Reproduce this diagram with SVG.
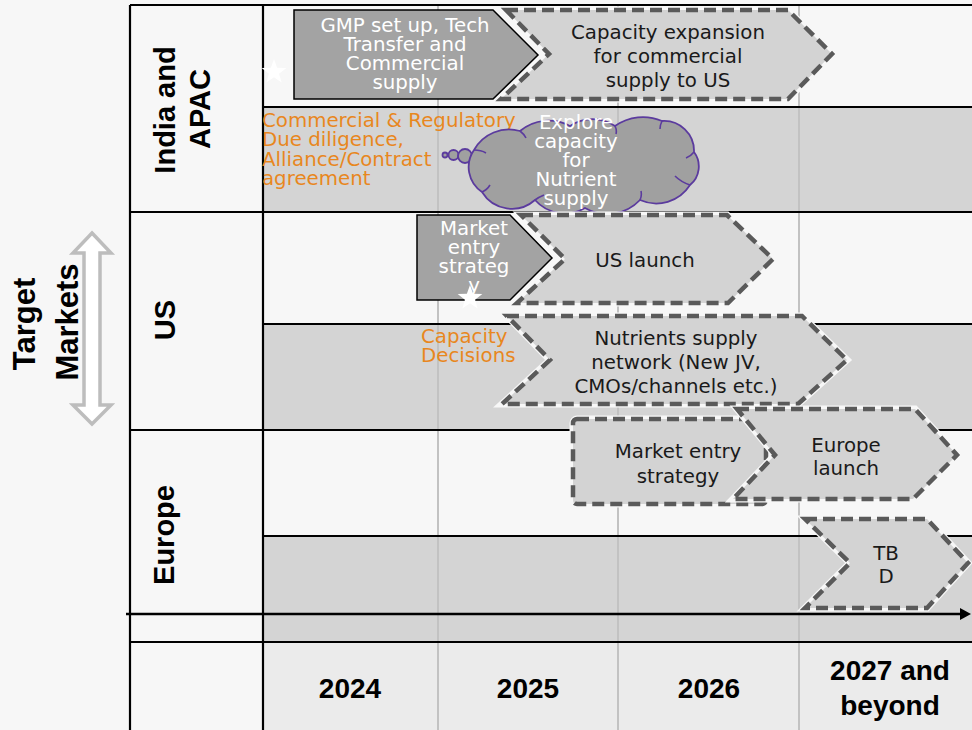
<svg xmlns="http://www.w3.org/2000/svg" width="972" height="730" viewBox="0 0 972 730">
<style>
.t{font-family:"DejaVu Sans","Verdana",sans-serif;font-size:19.8px;text-anchor:middle}
.w{fill:#ffffff}
.k{fill:#1a1a1a}
.o{fill:#e8871e;text-anchor:start}
.b{font-family:"Liberation Sans",Arial,sans-serif;font-weight:bold;fill:#000;text-anchor:middle}
.solid{fill:#a3a3a3;stroke:#000;stroke-width:1.5}
.dash{fill:#d3d3d3;stroke:#5a5a5a;stroke-width:4.5;stroke-dasharray:12 6}
.under{fill:none;stroke:#f7f7f7;stroke-width:7}
.grid{stroke:#c2c2c2;stroke-width:2}
.bl{stroke:#000;stroke-width:2.2}
.cl{fill:#a0a0a0;stroke:#5b3b9e;stroke-width:1.8}
</style>
<defs>
<polygon id="star" points="0,-13 3.12,-4.29 12.36,-4.02 5.04,1.64 7.64,10.52 0,5.3 -7.64,10.52 -5.04,1.64 -12.36,-4.02 -3.12,-4.29" fill="#ffffff"/>
<marker id="ah" markerWidth="11" markerHeight="12" refX="1" refY="6" orient="auto" markerUnits="userSpaceOnUse">
<path d="M0,0 L11,6 L0,12 Z" fill="#000"/>
</marker>
</defs>
<rect x="0" y="0" width="972" height="730" fill="#f7f7f7"/>
<g id="background">
<rect x="263" y="107" width="709" height="105" fill="#d4d4d4"/>
<rect x="263" y="324" width="709" height="106" fill="#d4d4d4"/>
<rect x="263" y="536" width="709" height="106" fill="#d4d4d4"/>
<rect x="263" y="642" width="709" height="88" fill="#ebebeb"/>
<line class="grid" x1="438" y1="5" x2="438" y2="730"/>
<line class="grid" x1="618" y1="5" x2="618" y2="730"/>
<line class="grid" x1="799" y1="5" x2="799" y2="730"/>
<line class="bl" x1="130" y1="5" x2="972" y2="5"/>
<line class="bl" x1="130" y1="5" x2="130" y2="730"/>
<line class="bl" x1="263" y1="5" x2="263" y2="730"/>
<line class="bl" x1="263" y1="107" x2="972" y2="107"/>
<line class="bl" x1="130" y1="212" x2="972" y2="212"/>
<line class="bl" x1="263" y1="324" x2="972" y2="324"/>
<line class="bl" x1="130" y1="430" x2="972" y2="430"/>
<line class="bl" x1="263" y1="536" x2="972" y2="536"/>
<line class="bl" x1="130" y1="642" x2="972" y2="642"/>
</g>
<g id="connectors">
<line x1="126" y1="614" x2="961" y2="614" stroke="#000" stroke-width="2.5" marker-end="url(#ah)"/>
</g>
<g id="target-markets">
<polygon points="92,233 111,253 100,253 100,405 111,405 92,424 73,405 84,405 84,253 73,253" fill="#ffffff" stroke="#bdbdbd" stroke-width="3.5" stroke-linejoin="miter"/>
<text class="b" font-size="31" transform="translate(35,324) rotate(-90)">Target</text>
<text class="b" font-size="31" transform="translate(78,322) rotate(-90)">Markets</text>
</g>
<g id="row-labels">
<text class="b" font-size="29" transform="translate(175,110) rotate(-90)">India and</text>
<text class="b" font-size="29" transform="translate(210,109) rotate(-90)">APAC</text>
<text class="b" font-size="29" transform="translate(175,320) rotate(-90)">US</text>
<text class="b" font-size="29" transform="translate(174,535) rotate(-90)">Europe</text>
</g>
<g id="years">
<text class="b" font-size="28" x="350" y="698">2024</text>
<text class="b" font-size="28" x="528" y="698">2025</text>
<text class="b" font-size="28" x="709" y="698">2026</text>
<text class="b" font-size="28" x="890" y="680">2027 and</text>
<text class="b" font-size="28" x="890" y="715">beyond</text>
</g>
<g id="capacity-expansion">
<polygon class="under" points="506,10 788,10 832,54 788,99 501,99 549,54"/>
<polygon class="dash" points="506,10 788,10 832,54 788,99 501,99 549,54"/>
<text class="t k" x="668" y="39">Capacity expansion</text>
<text class="t k" x="668" y="63">for commercial</text>
<text class="t k" x="668" y="86.5">supply to US</text>
</g>
<g id="gmp">
<polygon class="solid" points="294,10 493,10 538,55 493,99 294,99"/>
<text class="t w" x="405" y="31.5">GMP set up, Tech</text>
<text class="t w" x="405" y="50.5">Transfer and</text>
<text class="t w" x="405" y="69.5">Commercial</text>
<text class="t w" x="405" y="88.5">supply</text>
</g>
<g id="india-due-diligence">
<text class="t o" x="262" y="126.5">Commercial &amp; Regulatory</text>
<text class="t o" x="262" y="146">Due diligence,</text>
<text class="t o" x="262" y="165.5">Alliance/Contract</text>
<text class="t o" x="262" y="185">agreement</text>
</g>
<g id="explore-cloud">
<circle class="cl" cx="445" cy="155" r="2.5"/>
<circle class="cl" cx="453.5" cy="155" r="5"/>
<circle class="cl" cx="465" cy="156" r="7"/>
<path class="cl" stroke-width="2" d="M482,192 A30,30 0 0 1 474,150 A40,40 0 0 1 520,131 A45,45 0 0 1 570,126 A40,40 0 0 1 615,126 A48,48 0 0 1 662,121 A30,30 0 0 1 694,152 A24,24 0 0 1 690,185 A40,40 0 0 1 640,200 A45,45 0 0 1 585,208 A40,40 0 0 1 535,200 A35,35 0 0 1 482,192 Z"/>
<path d="M474,150 q7,0 12,3 M520,131 q4,3 6,7 M615,126 q2,4 1,8 M662,121 q-2,4 -2,8 M694,152 q-3,4 -8,6 M690,185 q-9,-3 -15,-9 M640,200 q2,-4 1,-9 M535,200 q4,-3 9,-5 M482,192 q5,-2 8,-7" fill="none" stroke="#5b3b9e" stroke-width="1.6"/>
<text class="t w" x="576" y="129">Explore</text>
<text class="t w" x="576" y="148">capacity</text>
<text class="t w" x="576" y="167">for</text>
<text class="t w" x="576" y="186">Nutrient</text>
<text class="t w" x="576" y="204.5">supply</text>
</g>
<g id="us-launch">
<polygon class="under" points="521,215 727,215 773,259 728,303 517,303 565,259"/>
<polygon class="dash" points="521,215 727,215 773,259 728,303 517,303 565,259"/>
<text class="t k" x="645" y="266.5">US launch</text>
</g>
<g id="us-market-entry">
<polygon class="solid" points="417,215 510,215 552,258 510,300 417,300"/>
<text class="t w" x="474" y="235">Market</text>
<text class="t w" x="474" y="254">entry</text>
<text class="t w" x="474" y="273">strateg</text>
<text class="t w" x="474" y="292">y</text>
</g>
<g id="nutrients-network">
<polygon class="under" points="507,316 802,316 847,360 798,404 502,404 550,360"/>
<polygon class="dash" points="507,316 802,316 847,360 798,404 502,404 550,360"/>
<text class="t k" x="676" y="345">Nutrients supply</text>
<text class="t k" x="676" y="368.5">network (New JV,</text>
<text class="t k" x="676" y="392.5">CMOs/channels etc.)</text>
</g>
<g id="capacity-decisions">
<text class="t o" x="421" y="343">Capacity</text>
<text class="t o" x="421" y="361.5">Decisions</text>
</g>
<g id="europe-market-entry">
<rect class="under" x="573" y="419" width="193" height="85" rx="4"/>
<rect class="dash" x="573" y="419" width="193" height="85" rx="4"/>
<text class="t k" x="678" y="458">Market entry</text>
<text class="t k" x="678" y="483">strategy</text>
</g>
<g id="europe-launch">
<polygon class="under" points="737,409 915,409 957,455 913,499 733,499 775,455"/>
<polygon class="dash" points="737,409 915,409 957,455 913,499 733,499 775,455"/>
<text class="t k" x="846" y="451.5">Europe</text>
<text class="t k" x="846" y="475">launch</text>
</g>
<g id="tbd">
<polygon class="under" points="805,519 927,519 968,563 927,608 805,608 850,563"/>
<polygon class="dash" points="805,519 927,519 968,563 927,608 805,608 850,563"/>
<text class="t k" x="886" y="560">TB</text>
<text class="t k" x="886" y="583">D</text>
</g>
<g id="milestones">
<use href="#star" x="274" y="72"/>
<use href="#star" x="470" y="298"/>
</g>
</svg>
